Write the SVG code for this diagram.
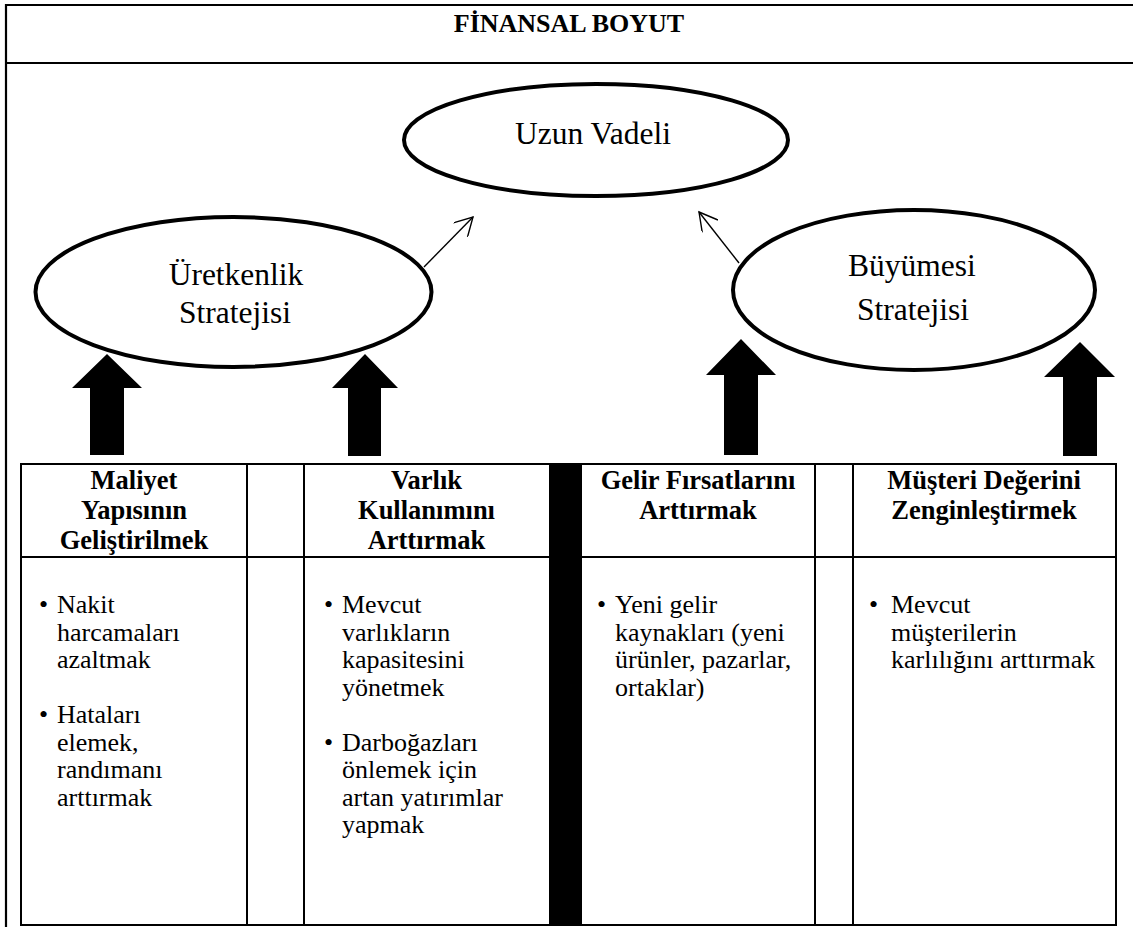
<svg xmlns="http://www.w3.org/2000/svg" width="1133" height="927" viewBox="0 0 1133 927">
  <style>
    text { font-family: 'Liberation Serif', 'Times New Roman', serif; fill: #000; }
    .frame { stroke: #000; stroke-width: 2.2; fill: none; }
    .grid { stroke: #000; stroke-width: 2; fill: none; }
    .oval { fill: #fff; stroke: #000; stroke-width: 4; }
    .oval-text { font-size: 31.5px; text-anchor: middle; }
    .title { font-size: 26px; font-weight: bold; text-anchor: middle; }
    .head { font-size: 26.5px; font-weight: bold; text-anchor: middle; }
    .body { font-size: 26px; }
    .link { stroke: #000; stroke-width: 1.4; fill: none; marker-end: url(#open); }
    .block { fill: #000; }
  </style>
  <defs>
    <marker id="open" viewBox="0 0 22 20" refX="20" refY="10" markerWidth="22" markerHeight="20" markerUnits="userSpaceOnUse" orient="auto">
      <path d="M2,0 L20,10 L2,20" fill="none" stroke="#000" stroke-width="1.4"/>
    </marker>
  </defs>

  <rect width="1133" height="927" fill="#fff"/>

  <!-- outer frame with title band -->
  <g id="frame">
    <line class="frame" x1="6" y1="5" x2="1133" y2="5"/>
    <line class="frame" x1="6" y1="63" x2="1133" y2="63"/>
    <line class="frame" x1="6" y1="4" x2="6" y2="927"/>
    <text class="title" x="569" y="32">FİNANSAL BOYUT</text>
  </g>

  <!-- strategy ovals -->
  <g id="uzun-vadeli">
    <ellipse class="oval" cx="596" cy="140" rx="192" ry="56"/>
    <text class="oval-text" x="593" y="144">Uzun Vadeli</text>
  </g>
  <g id="uretkenlik">
    <ellipse class="oval" cx="233.5" cy="292" rx="198" ry="75"/>
    <text class="oval-text" x="236" y="285">Üretkenlik</text>
    <text class="oval-text" x="235" y="323">Stratejisi</text>
  </g>
  <g id="buyume">
    <ellipse class="oval" cx="914" cy="290" rx="181" ry="80"/>
    <text class="oval-text" x="912" y="276">Büyümesi</text>
    <text class="oval-text" x="913" y="320">Stratejisi</text>
  </g>

  <!-- connectors -->
  <g id="connectors">
    <line class="link" x1="424" y1="267" x2="473" y2="217"/>
    <line class="link" x1="739" y1="263" x2="699" y2="212"/>
    <path class="block" d="M90,455 L90,388 L72,388 L107,354 L142,388 L124,388 L124,455 Z"/>
    <path class="block" d="M348,456 L348,388 L332,388 L365,354 L398,388 L381,388 L381,456 Z"/>
    <path class="block" d="M724,455 L724,375 L706,375 L741,339 L776,375 L758,375 L758,455 Z"/>
    <path class="block" d="M1063,456 L1063,377 L1044,377 L1080,342 L1115,377 L1097,377 L1097,456 Z"/>
  </g>

  <!-- objectives table -->
  <g id="table">
    <rect x="549" y="463" width="33" height="463" fill="#000"/>
    <line class="grid" x1="21" y1="464" x2="1117" y2="464"/>
    <line class="grid" x1="21" y1="557" x2="549" y2="557"/>
    <line class="grid" x1="582" y1="557" x2="1117" y2="557"/>
    <line class="grid" x1="21" y1="925" x2="1117" y2="925"/>
    <line class="grid" x1="21" y1="463" x2="21" y2="926"/>
    <line class="grid" x1="247" y1="463" x2="247" y2="926"/>
    <line class="grid" x1="304" y1="463" x2="304" y2="926"/>
    <line class="grid" x1="815" y1="463" x2="815" y2="926"/>
    <line class="grid" x1="853" y1="463" x2="853" y2="926"/>
    <line class="grid" x1="1116" y1="463" x2="1116" y2="926"/>
  </g>

  <g id="maliyet">
    <text class="head" x="134" y="489">Maliyet</text>
    <text class="head" x="134" y="519">Yapısının</text>
    <text class="head" x="134" y="549">Geliştirilmek</text>
    <text class="body" x="39" y="613">•</text>
    <text class="body" x="57" y="613">Nakit</text>
    <text class="body" x="57" y="640.5">harcamaları</text>
    <text class="body" x="57" y="668">azaltmak</text>
    <text class="body" x="39" y="723">•</text>
    <text class="body" x="57" y="723">Hataları</text>
    <text class="body" x="57" y="750.5">elemek,</text>
    <text class="body" x="57" y="778">randımanı</text>
    <text class="body" x="57" y="805.5">arttırmak</text>
  </g>

  <g id="varlik">
    <text class="head" x="426.5" y="489">Varlık</text>
    <text class="head" x="426.5" y="519">Kullanımını</text>
    <text class="head" x="426.5" y="549">Arttırmak</text>
    <text class="body" x="324" y="613">•</text>
    <text class="body" x="342" y="613">Mevcut</text>
    <text class="body" x="342" y="640.5">varlıkların</text>
    <text class="body" x="342" y="668">kapasitesini</text>
    <text class="body" x="342" y="695.5">yönetmek</text>
    <text class="body" x="324" y="750.5">•</text>
    <text class="body" x="342" y="750.5">Darboğazları</text>
    <text class="body" x="342" y="778">önlemek için</text>
    <text class="body" x="342" y="805.5">artan yatırımlar</text>
    <text class="body" x="342" y="833">yapmak</text>
  </g>

  <g id="gelir">
    <text class="head" x="698" y="489">Gelir Fırsatlarını</text>
    <text class="head" x="698" y="519">Arttırmak</text>
    <text class="body" x="597" y="613">•</text>
    <text class="body" x="615" y="613">Yeni gelir</text>
    <text class="body" x="615" y="640.5">kaynakları (yeni</text>
    <text class="body" x="615" y="668">ürünler, pazarlar,</text>
    <text class="body" x="615" y="695.5">ortaklar)</text>
  </g>

  <g id="musteri">
    <text class="head" x="984" y="489">Müşteri Değerini</text>
    <text class="head" x="984" y="519">Zenginleştirmek</text>
    <text class="body" x="869" y="613">•</text>
    <text class="body" x="891" y="613">Mevcut</text>
    <text class="body" x="891" y="640.5">müşterilerin</text>
    <text class="body" x="891" y="668">karlılığını arttırmak</text>
  </g>
</svg>
